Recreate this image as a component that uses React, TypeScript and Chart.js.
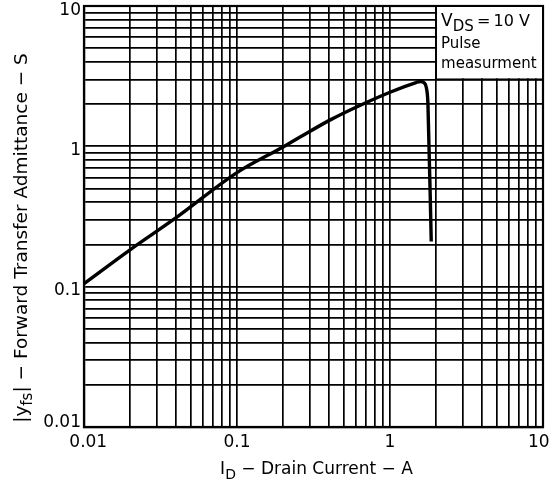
import React, { useEffect, useRef } from "react";
import { Chart, registerables } from "chart.js";

Chart.register(...registerables);

// Drain current (A) and forward transfer admittance (S)
const currentA = [0.01, 0.02, 0.04, 0.1, 0.2, 0.26, 0.41, 0.6, 1.0, 1.48, 1.58, 1.68, 1.73, 1.77, 1.86];
const admittanceS = [0.105, 0.183, 0.31, 0.65, 0.99, 1.17, 1.55, 1.9, 2.43, 2.85, 2.9, 2.82, 2.6, 2.0, 0.21];

// Decades and labels of both log axes
const decades = [0.01, 0.1, 1, 10];
const tickLabels = ["0.01", "0.1", "1", "10"];
const minorSteps = [1, 2, 3, 4, 5, 6, 7, 8, 9];

const legendLines = ["Pulse", "measurment"];

const FONT = "'DejaVu Sans', sans-serif";

function gridValues(): number[] {
  const out: number[] = [];
  for (let i = 0; i < decades.length - 1; i++) {
    for (const m of minorSteps) out.push(parseFloat((m * decades[i]).toPrecision(6)));
  }
  out.push(decades[decades.length - 1]);
  return out;
}

function labelIndex(v: number): number {
  return decades.findIndex((d) => Math.abs(Math.log10(d) - Math.log10(v)) < 1e-6);
}

type Part = { t: string; sub?: boolean; size?: number };

function partSize(p: Part, size: number) {
  return p.size ?? (p.sub ? Math.round(size * 0.82) : size);
}

function richWidth(ctx: CanvasRenderingContext2D, parts: Part[], size: number) {
  let w = 0;
  for (const p of parts) {
    ctx.font = `${partSize(p, size)}px ${FONT}`;
    w += ctx.measureText(p.t).width;
  }
  return w;
}

function drawRich(ctx: CanvasRenderingContext2D, parts: Part[], x: number, y: number, size: number) {
  let cx = x;
  ctx.textAlign = "left";
  ctx.textBaseline = "alphabetic";
  for (const p of parts) {
    ctx.font = `${partSize(p, size)}px ${FONT}`;
    ctx.fillText(p.t, cx, p.sub ? y + size * 0.28 : y);
    cx += ctx.measureText(p.t).width;
  }
}

const decorPlugin = {
  id: "decor",
  afterDraw(chart: any) {
    const ctx: CanvasRenderingContext2D = chart.ctx;
    const { left, right, top, bottom } = chart.chartArea;
    const xs = chart.scales.x;
    const ys = chart.scales.y;
    ctx.save();
    // frame
    ctx.strokeStyle = "#000";
    ctx.lineWidth = 2.2;
    ctx.strokeRect(left, top, right - left, bottom - top);

    // legend box bounded by grid lines x=2 and y=3
    const bx = xs.getPixelForValue(2);
    const by = ys.getPixelForValue(3);
    ctx.fillStyle = "#fff";
    ctx.fillRect(bx + 1, top + 1, right - bx - 2, by - top - 2);
    ctx.strokeStyle = "#000";
    ctx.lineWidth = 1.8;
    ctx.strokeRect(bx, top, right - bx, by - top);
    ctx.fillStyle = "#000";
    drawRich(
      ctx,
      [{ t: "V" }, { t: "DS", sub: true, size: 15 }, { t: "\u2009=\u200910 V", size: 16 }],
      bx + 5,
      top + 20,
      17
    );
    ctx.font = `15px ${FONT}`;
    ctx.fillText(legendLines[0], bx + 5, top + 42);
    ctx.fillText(legendLines[1], bx + 5, top + 62);

    // x title
    const xParts: Part[] = [{ t: "I" }, { t: "D", sub: true }, { t: " − Drain Current − A" }];
    const xw = richWidth(ctx, xParts, 17);
    drawRich(ctx, xParts, (left + right) / 2 + 3 - xw / 2, 474, 17);

    // y title (rotated)
    const yParts: Part[] = [
      { t: "|y" },
      { t: "fs", sub: true },
      { t: "| − Forward Transfer Admittance − S" },
    ];
    const yw = richWidth(ctx, yParts, 18.5);
    ctx.translate(27, 238);
    ctx.rotate(-Math.PI / 2);
    drawRich(ctx, yParts, -yw / 2, 0, 18.5);
    ctx.restore();
  },
};

export default function App() {
  const ref = useRef<HTMLCanvasElement>(null);

  useEffect(() => {
    document.body.style.margin = "0";
    const grid = gridValues();
    const chart = new Chart(ref.current!, {
      type: "scatter",
      data: {
        datasets: [
          {
            data: currentA.map((x, i) => ({ x, y: admittanceS[i] })),
            showLine: true,
            borderColor: "#000",
            borderWidth: 3.4,
            pointRadius: 0,
            cubicInterpolationMode: "monotone",
            clip: 4,
          } as any,
        ],
      },
      options: {
        responsive: false,
        animation: false,
        events: [],
        layout: { padding: { top: 6, right: 7, left: 0, bottom: 0 } },
        plugins: { legend: { display: false }, tooltip: { enabled: false } },
        scales: {
          x: {
            type: "logarithmic",
            min: 0.01,
            max: 10,
            afterBuildTicks: (s: any) => {
              s.ticks = grid.map((v) => ({ value: v }));
            },
            afterFit: (s: any) => {
              s.height = 61;
              s.paddingLeft = 0;
              s.paddingRight = 0;
            },
            grid: { color: "#000", lineWidth: 1.7, drawTicks: false },
            border: { color: "#000", width: 2.2 },
            ticks: {
              autoSkip: false,
              maxRotation: 0,
              padding: 5,
              color: "#000",
              font: { family: FONT, size: 17 },
              callback: (v: any) => {
                const i = labelIndex(Number(v));
                if (i < 0) return "";
                if (i === 0) return "\u2002" + tickLabels[i];
                if (i === tickLabels.length - 1) return tickLabels[i] + "\u2002";
                return tickLabels[i];
              },
            },
          },
          y: {
            type: "logarithmic",
            min: 0.01,
            max: 10,
            afterBuildTicks: (s: any) => {
              s.ticks = grid.map((v) => ({ value: v }));
            },
            afterFit: (s: any) => {
              s.width = 84;
              s.paddingTop = 0;
              s.paddingBottom = 0;
            },
            grid: { color: "#000", lineWidth: 1.7, drawTicks: false },
            border: { color: "#000", width: 2.2 },
            ticks: {
              autoSkip: false,
              padding: 3,
              color: "#000",
              font: { family: FONT, size: 17, lineHeight: 0.5 },
              callback: (v: any) => {
                const i = labelIndex(Number(v));
                if (i < 0) return "";
                // nudge labels off the grid line like the printed original
                return i === 0 ? [tickLabels[i], ""] : ["", tickLabels[i]];
              },
            },
          },
        },
      },
      plugins: [decorPlugin],
    });
    return () => chart.destroy();
  }, []);

  return (
    <div style={{ width: 550, height: 488, background: "#fff" }}>
      <canvas ref={ref} width={550} height={488} style={{ display: "block" }} />
    </div>
  );
}
